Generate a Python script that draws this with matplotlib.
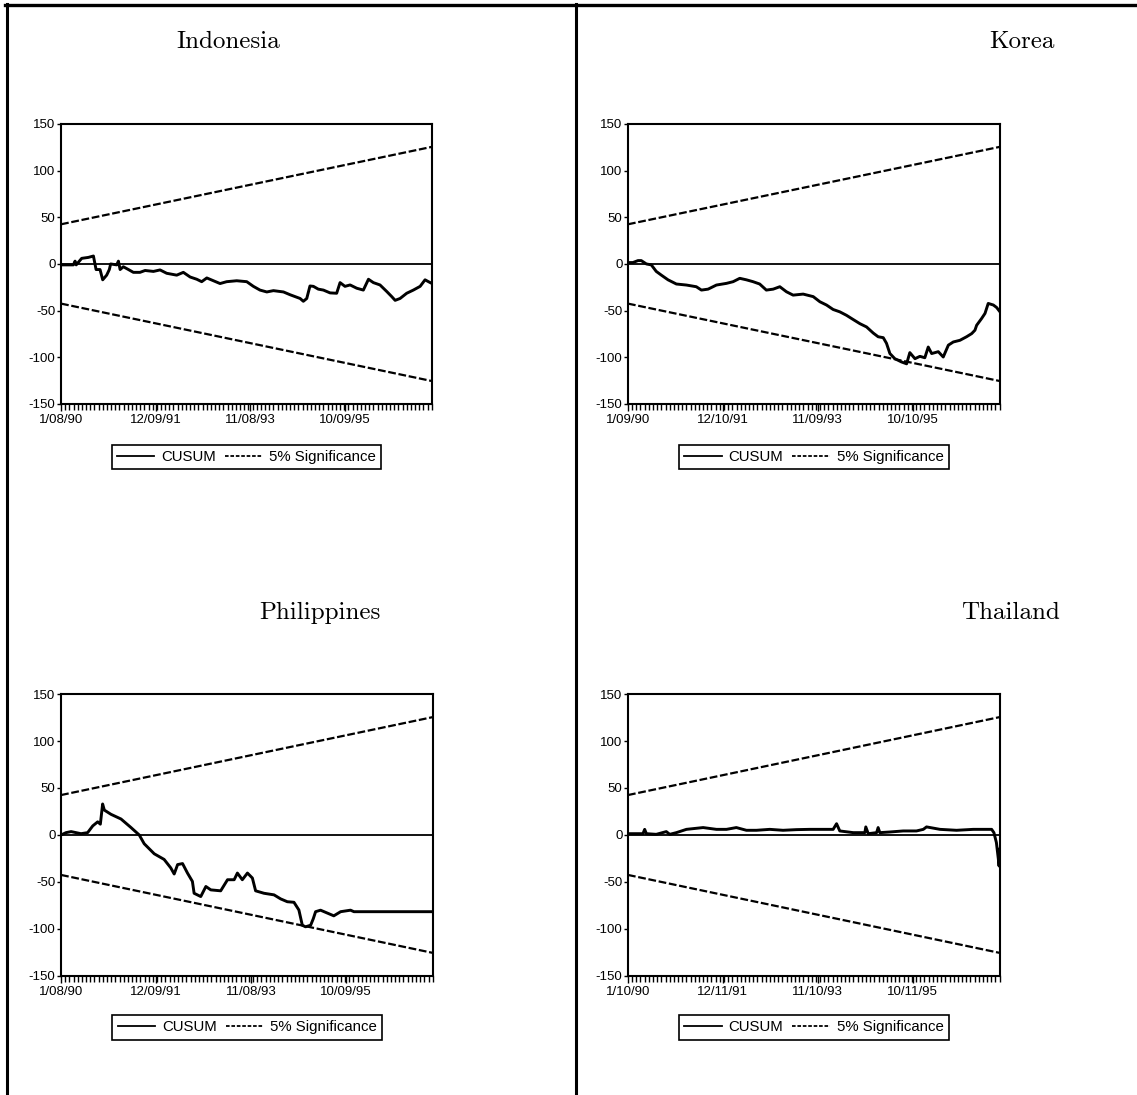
#
# CUSUM test plots for four asian markets
#
import matplotlib
matplotlib.use('Agg')
import matplotlib.pyplot as plt
from matplotlib.lines import Line2D

plt.rcParams['font.family'] = 'Liberation Sans'
plt.rcParams['axes.unicode_minus'] = False

nobs = 1960
band_x = [0, 1960]
band_up = [42.5, 125.5]
band_lo = [-42.5, -125.5]

indo_x = [0, 65, 74, 80, 109, 144, 171, 185, 206, 220, 241, 255, 262, 294, 303, 312, 329, 356, 382,
          417, 444, 488, 523, 558, 611, 646, 682, 717, 743, 770, 805, 840, 875, 928, 981, 1016, 1051,
          1087, 1122, 1175, 1210, 1263, 1280, 1298, 1315, 1333, 1359, 1386, 1421, 1456, 1474, 1500,
          1527, 1562, 1597, 1624, 1650, 1685, 1721, 1747, 1765, 1791, 1826, 1861, 1897, 1923, 1941, 1960]
indo_y = [-1, -1, 3, -1, 6, 7, 8.5, -6, -6, -17, -12, -6, 0, -1, 3, -6, -3, -6, -9,
          -9, -7, -8, -6.4, -10, -12, -9, -14, -16.4, -19, -15, -18, -21, -19, -18, -19, -24, -28,
          -30, -28.6, -30, -33, -37, -40, -37, -23.6, -24, -27, -28, -31, -31.4, -20, -24,
          -22.5, -26, -28, -16.4, -20, -22.5, -29.6, -35, -39, -37, -31.4, -28, -24, -17, -19, -21]

korea_x = [0, 26, 53, 70, 97, 123, 149, 176, 211, 255, 308, 360, 387, 422, 466, 519, 554, 589, 624,
           659, 694, 729, 765, 800, 835, 870, 923, 976, 1011, 1046, 1081, 1116, 1151, 1187, 1222,
           1257, 1292, 1318, 1345, 1362, 1380, 1406, 1441, 1468, 1485, 1512, 1538, 1564, 1582, 1600,
           1635, 1661, 1688, 1714, 1749, 1784, 1811, 1828, 1837, 1863, 1881, 1898, 1925, 1942, 1960]
korea_y = [1.5, 1.5, 3.6, 3.6, 0, -1, -8, -12, -17, -21.5, -22.6, -24.4, -28, -27, -22.6, -20.8, -19,
           -15.4, -17, -19, -21.5, -28, -27, -24.4, -29.8, -33.4, -32.3, -35, -40.5, -44, -48.8, -51.3,
           -55, -59.6, -64, -67.5, -74, -78, -79, -85, -96, -101.5, -105, -107, -95, -101.5, -99,
           -100.5, -89, -96, -94, -99.7, -87, -83.6, -81.8, -78, -74.6, -71, -65.7, -58.5, -53,
           -42.3, -44, -46.6, -51.3]

phil_x = [0, 26, 53, 79, 105, 140, 167, 193, 207, 219, 228, 263, 316, 368, 412, 438, 491, 543, 578,
          596, 614, 640, 666, 692, 701, 736, 763, 789, 841, 877, 912, 929, 955, 982, 1008, 1025,
          1069, 1122, 1157, 1192, 1227, 1253, 1271, 1288, 1315, 1329, 1341, 1367, 1402, 1437, 1473,
          1525, 1543, 1960]
phil_y = [0, 2.5, 3.6, 2.5, 1.4, 2.5, 9.7, 14, 11.5, 33, 26.5, 22, 17, 8, 0, -9.3, -20, -26, -35,
          -41.5, -31.5, -30.4, -40.5, -49.4, -62, -65.5, -54.8, -58.4, -59.4, -47.6, -47.6, -40.5,
          -47.6, -40.5, -45.8, -59.4, -62, -63.7, -68, -71, -71.6, -79.8, -96, -97.7, -96, -89,
          -81.6, -80, -83, -86, -81.6, -80, -81.6, -81.6]

thai_x = [0, 79, 88, 97, 149, 202, 220, 255, 308, 396, 466, 519, 571, 624, 677, 747, 817, 888, 958,
          1028, 1081, 1099, 1116, 1187, 1248, 1253, 1266, 1310, 1318, 1327, 1380, 1450, 1520, 1556,
          1573, 1644, 1731, 1819, 1916, 1928, 1941, 1951, 1955, 1960]
thai_y = [1.4, 1.4, 6, 1.4, 0.7, 3.6, 0.7, 2.5, 6, 7.9, 6, 6, 7.9, 5, 5, 6, 5, 5.7, 6,
          6, 6, 12, 4.3, 2.5, 2.5, 8.6, 1.4, 2.5, 7.9, 2.5, 3.2, 4.3, 4.3, 6,
          8.6, 6, 5, 6, 6, 2.5, -8, -25, -33, -15]

tick_pos = [0, 500, 1000, 1500]
indo_lab = ['1/08/90', '12/09/91', '11/08/93', '10/09/95']
korea_lab = ['1/09/90', '12/10/91', '11/09/93', '10/10/95']
phil_lab = ['1/08/90', '12/09/91', '11/08/93', '10/09/95']
thai_lab = ['1/10/90', '12/11/91', '11/10/93', '10/11/95']

panels = [
    ('Indonesia', indo_x, indo_y, indo_lab, [0.0537, 0.6311, 0.3263, 0.2557], (228, 48), -0.146),
    ('Korea', korea_x, korea_y, korea_lab, [0.5523, 0.6311, 0.3272, 0.2557], (1022, 48), -0.146),
    ('Philippines', phil_x, phil_y, phil_lab, [0.0537, 0.1087, 0.3272, 0.2575], (320, 619), -0.139),
    ('Thailand', thai_x, thai_y, thai_lab, [0.5523, 0.1087, 0.3272, 0.2575], (1010, 619), -0.139),
]

W, H = 1137, 1095
fig = plt.figure(figsize=(W / 100, H / 100), dpi=100)

for navn, xs, ys, labs, pos, tpos, legy in panels:
    ax = fig.add_axes(pos)
    ax.axhline(0, color='black', lw=1.3, zorder=1)
    ax.plot(band_x, band_up, color='black', lw=1.6, ls=(0, (3.5, 1.2)))
    ax.plot(band_x, band_lo, color='black', lw=1.6, ls=(0, (3.5, 1.2)))
    ax.plot(xs, ys, color='black', lw=2.1)
    ax.set_xlim(0, nobs)
    ax.set_ylim(-150, 150)
    ax.set_yticks([-150, -100, -50, 0, 50, 100, 150])
    ax.set_xticks(tick_pos)
    ax.set_xticklabels(labs)
    ax.set_xticks(range(0, nobs, 22), minor=True)
    ax.tick_params(axis='both', labelsize=9.5, color='black', direction='out')
    ax.tick_params(axis='y', length=3, width=1, pad=1)
    ax.tick_params(axis='x', which='major', length=5, width=1, pad=2)
    ax.tick_params(axis='x', which='minor', length=4, width=1)
    for sp in ax.spines.values():
        sp.set_linewidth(1.5)
    l1 = Line2D([], [], color='black', lw=1.3)
    l2 = Line2D([], [], color='black', lw=1.3, ls=(0, (2, 1)))
    leg = ax.legend([l1, l2], ['CUSUM', '5% Significance'], loc='upper center',
                    bbox_to_anchor=(0.5, legy), ncol=2, fontsize=10.8, frameon=True,
                    fancybox=False, edgecolor='black', framealpha=1, handlelength=2.5,
                    handletextpad=0.45, columnspacing=0.6, borderpad=0.35, borderaxespad=0)
    leg.get_frame().set_linewidth(1.2)
    fig.text(tpos[0] / W, 1 - tpos[1] / H, navn, ha='center', va='baseline',
             fontsize=18, family='cmr10')

# rammer
fig.add_artist(Line2D([5 / W, 1], [1 - 5 / H, 1 - 5 / H], color='black', lw=2.4))
fig.add_artist(Line2D([7 / W, 7 / W], [0, 1 - 4 / H], color='black', lw=2.2))
fig.add_artist(Line2D([575.5 / W, 575.5 / W], [0, 1 - 4 / H], color='black', lw=2.2))

fig.savefig('out.png', dpi=100)
